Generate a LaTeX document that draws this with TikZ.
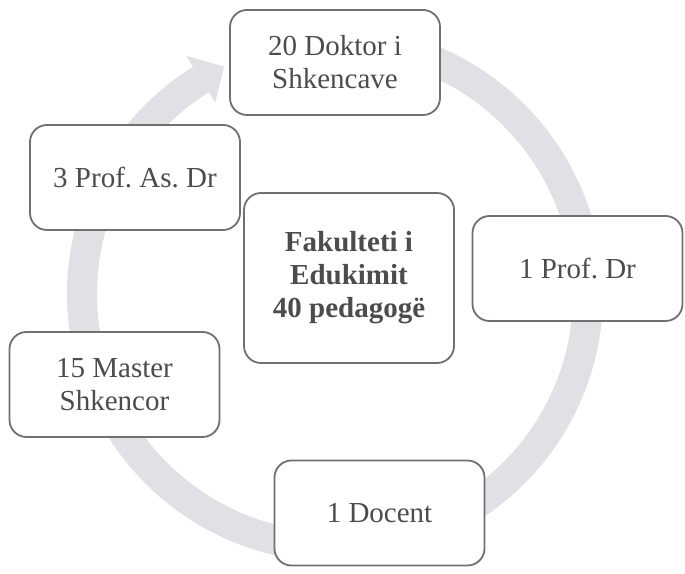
\documentclass[tikz,border=0pt]{standalone}
\usepackage{fontspec}
\setmainfont{Liberation Serif}
\usepackage{tikz}
\frenchspacing
\definecolor{ringgray}{rgb}{0.88, 0.88, 0.9}
\definecolor{boxgray}{rgb}{0.44, 0.44, 0.44}
\definecolor{textgray}{rgb}{0.3, 0.3, 0.3}

\begin{document}
\begin{tikzpicture}[x=1pt, y=1pt,
    level/.style={draw=boxgray, line width=1.8pt, fill=white, rounded corners=17pt,
      minimum width=210pt, minimum height=105pt, inner sep=0pt, align=center,
      text=textgray, font=\fontsize{29}{33}\selectfont}]
    \useasboundingbox (0, 0) rectangle (685, 573);

    \begin{scope}[shift={(335, 279)}]
      \draw [ringgray, line width=30pt] (90:253) arc (90:-238:253);
      \fill [ringgray] (122:226) -- (122:281) -- (116:253) -- cycle;
    \end{scope}

    \node [level] (doktor) at (335, 510.5) {20 Doktor i\\Shkencave};
    \node [level] (profas) at (135, 395.5) {3 Prof. As. Dr};
    \node [level] (profdr) at (577.5, 304.5) {1 Prof. Dr};
    \node [level] (master) at (114.5, 188.5) {15 Master\\Shkencor};
    \node [level] (docent) at (379.5, 60) {1 Docent};

    \node [level, minimum height=170pt, font=\fontsize{29}{33}\selectfont\bfseries]
      (fakulteti) at (349, 295) {Fakulteti i\\Edukimit\\40 pedagogë};
  \end{tikzpicture}
\end{document}
